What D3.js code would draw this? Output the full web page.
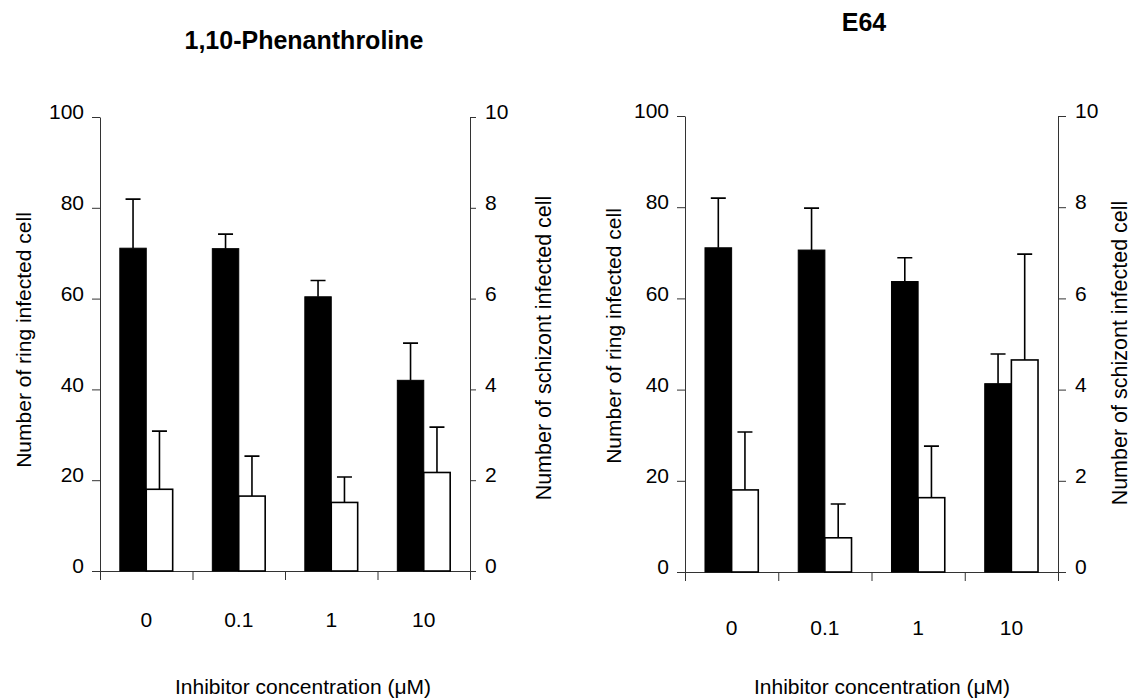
<!DOCTYPE html>
<html>
<head>
<meta charset="utf-8">
<script src="https://cdn.jsdelivr.net/npm/d3@7"></script>
<style>
  body { margin: 0; background: #fff; }
  svg { display: block; font-family: Arial, "Liberation Sans", sans-serif; }
</style>
</head>
<body>
<div id="chart"></div>
<script>
// 濃度カテゴリ
var concentrations = ['0', '0.1', '1', '10'];

// 1,10-Phenanthroline
var phenRing = [71.1, 71.0, 60.4, 42.0];
var phenRingErr = [10.8, 3.2, 3.6, 8.2];
var phenSchizont = [1.80, 1.65, 1.51, 2.17];
var phenSchizontErr = [1.28, 0.88, 0.56, 1.00];

// E64
var e64Ring = [71.1, 70.6, 63.7, 41.3];
var e64RingErr = [10.9, 9.2, 5.2, 6.5];
var e64Schizont = [1.80, 0.75, 1.63, 4.65];
var e64SchizontErr = [1.27, 0.74, 1.13, 2.32];

// 軸の目盛り
var ringTicks = [0, 20, 40, 60, 80, 100];
var schizontTicks = [0, 2, 4, 6, 8, 10];

var width = 1133;
var height = 699;

var svg = d3.select('#chart').append('svg')
  .attr('width', width)
  .attr('height', height);

// パネル1つを描く
function drawPanel(p) {
  var g = svg.append('g');

  var x = d3.scaleBand().domain(concentrations).range([p.x0, p.x1]);
  var sub = d3.scaleBand().domain(['ring', 'schizont'])
    .range([0, x.bandwidth()]).paddingOuter(0.75);
  var yL = d3.scaleLinear().domain([0, 100]).range([p.yBase, p.yTop]);
  var yR = d3.scaleLinear().domain([0, 10]).range([p.yBase, p.yTop]);
  var bound = d3.scaleLinear().domain([0, concentrations.length]).range([p.x0, p.x1]);

  // 左軸
  var left = g.append('g')
    .attr('transform', 'translate(' + p.x0 + ',0)')
    .call(d3.axisLeft(yL).tickValues(ringTicks).tickSize(8).tickSizeOuter(0).tickPadding(8));
  // 右軸
  var right = g.append('g')
    .attr('transform', 'translate(' + p.x1 + ',0)')
    .call(d3.axisRight(yR).tickValues(schizontTicks).tickSize(p.rTick).tickSizeOuter(0).tickPadding(9));
  // カテゴリ境界の目盛り
  var bottom = g.append('g')
    .attr('transform', 'translate(0,' + p.yBase + ')')
    .call(d3.axisBottom(bound).ticks(concentrations.length).tickSize(9).tickSizeOuter(0).tickFormat(''));
  // カテゴリラベル
  var labels = g.append('g')
    .attr('transform', 'translate(0,' + p.yBase + ')')
    .call(d3.axisBottom(x).tickSize(0).tickPadding(p.catPad));
  labels.select('.domain').remove();

  [left, right, bottom].forEach(function(a) {
    a.selectAll('path, line').attr('stroke', '#333').attr('stroke-width', 1);
  });
  [left, right, labels].forEach(function(a) {
    a.selectAll('text')
      .attr('font-size', 21)
      .attr('font-family', 'Arial, "Liberation Sans", sans-serif')
      .attr('fill', '#000');
  });
  left.selectAll('text').attr('dy', '0.08em');
  right.selectAll('text').attr('dy', '0.08em');

  var rows = concentrations.map(function(c, i) {
    return {c: c, ring: p.ring[i], ringErr: p.ringErr[i], sch: p.sch[i], schErr: p.schErr[i]};
  });

  var grp = g.append('g').selectAll('g').data(rows).enter().append('g')
    .attr('transform', function(d) { return 'translate(' + x(d.c) + ',0)'; });

  // 誤差棒（上側のみ）
  var cap = 7.5;
  grp.append('path')
    .attr('fill', 'none').attr('stroke', '#000').attr('stroke-width', 1.6)
    .attr('d', function(d) {
      var cx = sub('ring') + sub.bandwidth() / 2;
      var t = yL(d.ring + d.ringErr);
      return 'M' + cx + ',' + yL(d.ring) + 'V' + t + 'M' + (cx - cap) + ',' + t + 'H' + (cx + cap);
    });
  grp.append('path')
    .attr('fill', 'none').attr('stroke', '#000').attr('stroke-width', 1.6)
    .attr('d', function(d) {
      var cx = sub('schizont') + sub.bandwidth() / 2;
      var t = yR(d.sch + d.schErr);
      return 'M' + cx + ',' + yR(d.sch) + 'V' + t + 'M' + (cx - cap) + ',' + t + 'H' + (cx + cap);
    });

  // リング期（黒）
  grp.append('rect')
    .attr('x', sub('ring'))
    .attr('width', sub.bandwidth())
    .attr('y', function(d) { return yL(d.ring); })
    .attr('height', function(d) { return yL(0) - yL(d.ring); })
    .attr('fill', '#000').attr('stroke', '#000').attr('stroke-width', 1);
  // シゾント期（白）
  grp.append('rect')
    .attr('x', sub('schizont'))
    .attr('width', sub.bandwidth())
    .attr('y', function(d) { return yR(d.sch); })
    .attr('height', function(d) { return yR(0) - yR(d.sch); })
    .attr('fill', '#fff').attr('stroke', '#000').attr('stroke-width', 1.6);

  // タイトル
  g.append('text')
    .attr('x', p.titleX).attr('y', p.titleY)
    .attr('text-anchor', 'middle')
    .attr('font-size', 25).attr('font-weight', 'bold')
    .text(p.title);

  // 軸タイトル
  g.append('text')
    .attr('transform', 'translate(' + p.lTitleX + ',' + p.lTitleY + ') rotate(-90)')
    .attr('text-anchor', 'middle').attr('font-size', 21)
    .text('Number of ring infected cell');
  g.append('text')
    .attr('transform', 'translate(' + p.rTitleX + ',' + p.rTitleY + ') rotate(-90)')
    .attr('text-anchor', 'middle').attr('font-size', 21.5)
    .text('Number of schizont infected cell');
  g.append('text')
    .attr('x', p.xTitleX).attr('y', p.xTitleY)
    .attr('text-anchor', 'middle').attr('font-size', 21)
    .text('Inhibitor concentration (\u03BCM)');
}

drawPanel({
  x0: 100, x1: 470, yTop: 117, yBase: 571, rTick: 6, catPad: 41,
  ring: phenRing, ringErr: phenRingErr, sch: phenSchizont, schErr: phenSchizontErr,
  title: '1,10-Phenanthroline', titleX: 304, titleY: 49,
  lTitleX: 31, lTitleY: 340, rTitleX: 551, rTitleY: 348,
  xTitleX: 303, xTitleY: 694
});

drawPanel({
  x0: 685, x1: 1058, yTop: 116, yBase: 572, rTick: 8, catPad: 48,
  ring: e64Ring, ringErr: e64RingErr, sch: e64Schizont, schErr: e64SchizontErr,
  title: 'E64', titleX: 864, titleY: 31,
  lTitleX: 621, lTitleY: 336, rTitleX: 1127, rTitleY: 353,
  xTitleX: 882, xTitleY: 694
});
</script>
</body>
</html>
